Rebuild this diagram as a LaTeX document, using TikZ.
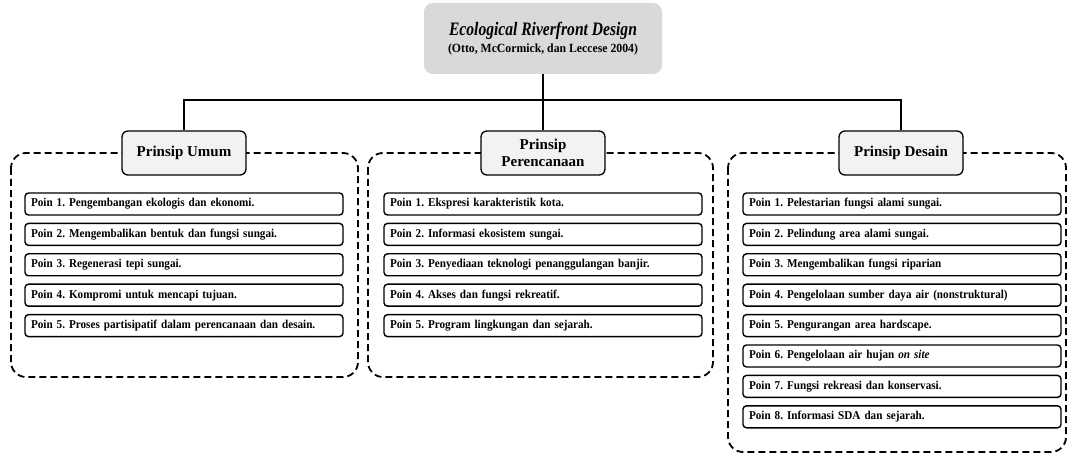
\documentclass[tikz,border=0pt]{standalone}
\usepackage{fontspec}
\setmainfont{Liberation Serif}
\frenchspacing
\definecolor{topgray}{RGB}{217,217,217}
\definecolor{headgray}{RGB}{242,242,242}

\tikzset{
  topbox/.style={fill=topgray, rounded corners=9pt, minimum width=238pt, minimum height=71pt, align=center, inner sep=0pt},
  headbox/.style={draw, fill=headgray, line width=1.3pt, rounded corners=6pt, minimum width=124pt, minimum height=44pt, align=center, inner sep=0pt, font=\fontsize{15}{17}\selectfont\bfseries},
  poin/.style={draw, fill=white, line width=1.4pt, rounded corners=3.5pt, minimum height=22pt, text width=306pt, inner xsep=6pt, inner ysep=0pt, align=left, font=\fontsize{12}{13}\selectfont\bfseries\addfontfeature{FakeStretch=0.93}},
  dashbox/.style={line width=1.8pt, dash pattern=on 7pt off 4pt, rounded corners=15pt},
  link/.style={line width=1.4pt}
}

\begin{document}
\begin{tikzpicture}[x=1pt,y=-1pt]
\useasboundingbox (0,0) rectangle (1068,454);

% dashed groups
\draw[dashbox] (11,153) rectangle (358,377);
\draw[dashbox] (368,153) rectangle (713,377);
\draw[dashbox] (728,153) rectangle (1066,452);

% top box
\node[topbox] (eco) at (543,38.5) {{\fontsize{19}{20}\selectfont\bfseries\itshape\addfontfeature{FakeStretch=0.82}Ecological Riverfront Design}\\[3pt]
  {\fontsize{12.5}{13}\selectfont\bfseries\addfontfeature{FakeStretch=0.94}(Otto, McCormick, dan Leccese 2004)}};

% headers
\node[headbox] (umum) at (184,153) {Prinsip Umum};
\node[headbox] (renc) at (543,153) {Prinsip\\Perencanaan};
\node[headbox] (desain) at (901,153) {Prinsip Desain};

% lines
\coordinate (bus) at (543,100);
\draw[link] (eco.south) -- (bus);
\draw[link] (umum.north) |- (bus) -| (desain.north);
\draw[link] (bus) -- (renc.north);

% prinsip umum
\begin{scope}[shift={(184,0)}]
\node[poin] (u1) at (0,204) {Poin 1. Pengembangan ekologis dan ekonomi.};
\node[poin] (u2) at (0,234.4) {Poin 2. Mengembalikan bentuk dan fungsi sungai.};
\node[poin] (u3) at (0,264.8) {Poin 3. Regenerasi tepi sungai.};
\node[poin] (u4) at (0,295.2) {Poin 4. Kompromi untuk mencapi tujuan.};
\node[poin] (u5) at (0,325.6) {Poin 5. Proses partisipatif dalam perencanaan dan desain.};
\end{scope}

% prinsip perencanaan
\begin{scope}[shift={(543,0)}]
\node[poin] (p1) at (0,204) {Poin 1. Ekspresi karakteristik kota.};
\node[poin] (p2) at (0,234.4) {Poin 2. Informasi ekosistem sungai.};
\node[poin] (p3) at (0,264.8) {Poin 3. Penyediaan teknologi penanggulangan banjir.};
\node[poin] (p4) at (0,295.2) {Poin 4. Akses dan fungsi rekreatif.};
\node[poin] (p5) at (0,325.6) {Poin 5. Program lingkungan dan sejarah.};
\end{scope}

% prinsip desain
\begin{scope}[shift={(902,0)}]
\node[poin] (d1) at (0,204) {Poin 1. Pelestarian fungsi alami sungai.};
\node[poin] (d2) at (0,234.4) {Poin 2. Pelindung area alami sungai.};
\node[poin] (d3) at (0,264.8) {Poin 3. Mengembalikan fungsi riparian};
\node[poin] (d4) at (0,295.2) {Poin 4. Pengelolaan sumber daya air (nonstruktural)};
\node[poin] (d5) at (0,325.6) {Poin 5. Pengurangan area hardscape.};
\node[poin] (d6) at (0,356) {Poin 6. Pengelolaan air hujan \textit{on site}};
\node[poin] (d7) at (0,386.4) {Poin 7. Fungsi rekreasi dan konservasi.};
\node[poin] (d8) at (0,416.8) {Poin 8. Informasi SDA dan sejarah.};
\end{scope}
\end{tikzpicture}
\end{document}
